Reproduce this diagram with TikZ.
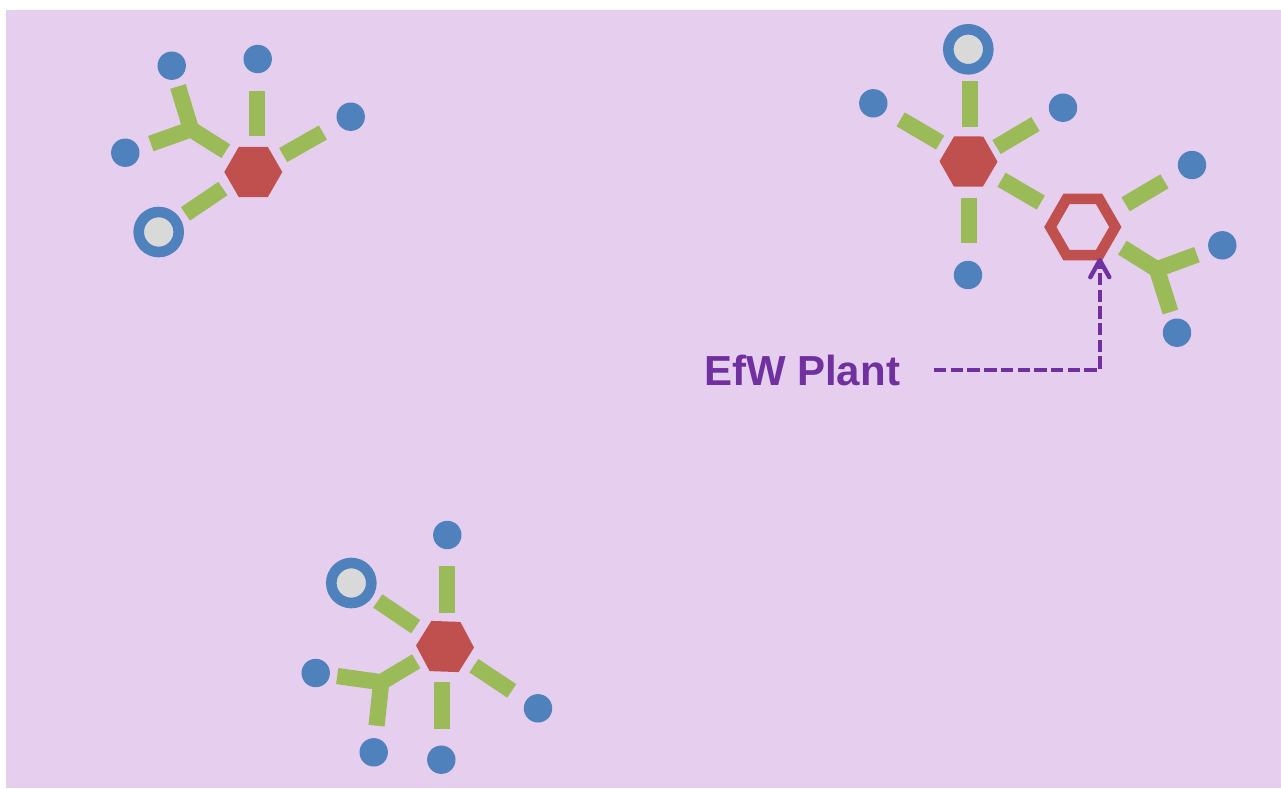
\documentclass[tikz,border=0pt]{standalone}
\usepackage{fontspec}
\setmainfont{Liberation Sans}
\usetikzlibrary{arrows.meta,shapes.geometric}
\definecolor{sitebg}{HTML}{E6CEEE}
\definecolor{hubred}{HTML}{C0504D}
\definecolor{barGreen}{HTML}{9BBB59}
\definecolor{dotblue}{HTML}{4F81BD}
\definecolor{ringgrey}{HTML}{D9D9D9}
\definecolor{plantpurple}{HTML}{7030A0}
\tikzset{
  hub/.style={regular polygon,regular polygon sides=6,fill=hubred,inner sep=0pt,outer sep=0pt,minimum size=58pt},
  plant/.style={regular polygon,regular polygon sides=6,draw=hubred,line width=10.6pt,inner sep=0pt,outer sep=0pt,minimum size=65pt},
  leaf/.style={circle,fill=dotblue,inner sep=0pt,outer sep=0pt,minimum size=28.4pt},
  ring/.style={circle,draw=dotblue,fill=ringgrey,line width=10.6pt,inner sep=0pt,outer sep=0pt,minimum size=40pt},
  bar/.style={draw=barGreen,line width=16.2pt},
  leader/.style={draw=plantpurple,line width=3.7pt,dash pattern=on 12.4pt off 4.3pt,-{Straight Barb[length=17pt,width=19pt,line width=4.4pt,round]}},
  plantlabel/.style={text=plantpurple,font=\bfseries\fontsize{42}{42}\selectfont,inner sep=0pt,outer sep=0pt,anchor=east}
}
\begin{document}
\begin{tikzpicture}[x=1pt,y=-1pt]
\useasboundingbox (0,0) rectangle (1281,788);
\fill [sitebg] (6,10) rectangle (1281,788);

% top left cluster
\node [hub] (hubA) at (253.3,172) {};
\node [leaf] (aTop) at (257.7,59) {};
\node [leaf] (aRight) at (350.7,116.7) {};
\node [leaf] (aUp) at (171.7,65.7) {};
\node [leaf] (aLeft) at (125.3,152.7) {};
\node [ring] (aRing) at (158.7,232) {};
\coordinate (aFork) at (191,129.3);
\draw [bar,shorten <=35.7pt,shorten >=31.7pt] ([shift={(3.4,0)}]hubA.center) -- ([shift={(-1,0)}]aTop.center);
\draw [bar,shorten <=34.3pt,shorten >=32pt] (hubA.center) -- (aRight.center);
\draw [bar,shorten <=36.7pt,shorten >=32.3pt] ([shift={(0,-4)}]hubA.center) -- (aRing.center);
\draw [bar,shorten <=32.5pt,shorten >=21.7pt] ([shift={(0,-3.5)}]hubA.center) -- (aFork) -- (aUp.center);
\draw [bar,shorten >=27.1pt] (aFork) -- (aLeft.center);

% top right cluster
\node [hub,rotate=-0.5] (hubB) at (968.5,161.5) {};
\node [ring] (bRing) at (968.3,49.3) {};
\node [leaf] (bLeft) at (873.3,103.3) {};
\node [leaf] (bRight) at (1063,107.7) {};
\node [leaf] (bBottom) at (968,275) {};
\draw [bar,shorten <=34.2pt,shorten >=32pt] ([shift={(1.3,0)}]hubB.center) -- ([shift={(1.5,0)}]bRing.center);
\draw [bar,shorten <=32.9pt,shorten >=31.7pt] ([shift={(0,-2.3)}]hubB.center) -- (bLeft.center);
\draw [bar,shorten <=32.6pt,shorten >=32pt] ([shift={(0,2.2)}]hubB.center) -- (bRight.center);
\draw [bar,shorten <=36.2pt,shorten >=31.7pt] ([shift={(0.3,0)}]hubB.center) -- ([shift={(0.8,0)}]bBottom.center);

% the plant and what hangs off it
\node [plant] (plantC) at (1082.8,227) {};
\node [leaf] (cUp) at (1192,165) {};
\node [leaf] (cRight) at (1222.3,245.3) {};
\node [leaf] (cDown) at (1177,332.7) {};
\coordinate (cFork) at (1156.9,269.3);
\draw [bar,shorten <=38.2pt,shorten >=48.6pt] ([shift={(0,-1)}]hubB.center) -- (plantC.center);
\draw [bar,shorten <=49.7pt,shorten >=32pt] ([shift={(0,2.6)}]plantC.center) -- (cUp.center);
\draw [bar,shorten <=46.6pt,shorten >=21.7pt] ([shift={(0,-4)}]plantC.center) -- (cFork) -- (cDown.center);
\draw [bar,shorten >=27pt] (cFork) -- (cRight.center);

% bottom cluster
\node [hub,rotate=-2] (hubD) at (445,646.5) {};
\node [leaf] (dTop) at (447.3,535) {};
\node [ring] (dRing) at (351.3,583) {};
\node [leaf] (dRight) at (538,708.3) {};
\node [leaf] (dBottom) at (441.3,759.7) {};
\node [leaf] (dLeft) at (315.7,673) {};
\node [leaf] (dDown) at (373.7,752.3) {};
\coordinate (dFork) at (381.2,682.2);
\draw [bar,shorten <=33.5pt,shorten >=31pt] ([shift={(1.7,0)}]hubD.center) -- ([shift={(-0.6,0)}]dTop.center);
\draw [bar,shorten <=35.4pt,shorten >=32pt] (hubD.center) -- (dRing.center);
\draw [bar,shorten <=34.7pt,shorten >=31.5pt] (hubD.center) -- (dRight.center);
\draw [bar,shorten <=35.5pt,shorten >=31pt] ([shift={(-3,0)}]hubD.center) -- ([shift={(0.7,0)}]dBottom.center);
\draw [bar,shorten <=33.5pt,shorten >=21.7pt] ([shift={(0,-2.4)}]hubD.center) -- (dFork) -- (dLeft.center);
\draw [bar,shorten >=26.8pt] (dFork) -- (dDown.center);

% label
\node [plantlabel] (efw) at (900,370) {EfW Plant};
\coordinate (efwTip) at (1099.8,258);
\draw [leader,shorten <=34pt] (efw.east) -| (efwTip);
\end{tikzpicture}
\end{document}
